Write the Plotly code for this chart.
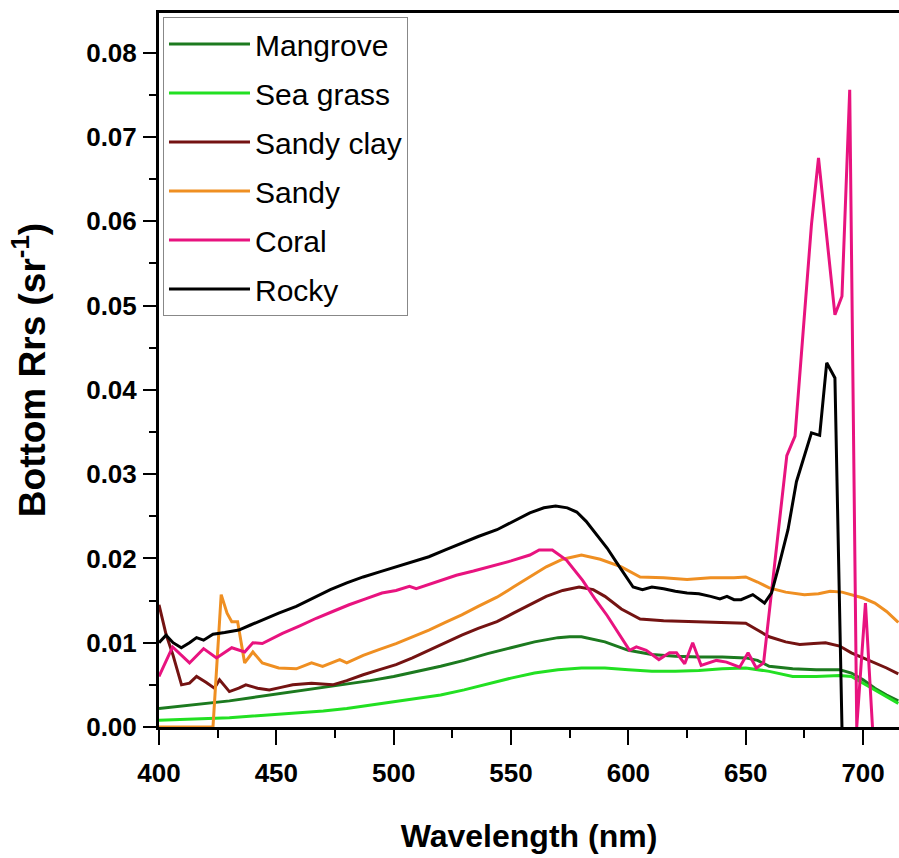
import plotly.graph_objects as go

# ---------------- data ----------------
mangrove_wl = [400, 410, 420, 430, 440, 450, 460, 470, 480, 490, 500, 510, 520, 530, 540, 550, 560, 570, 575, 580,
               590, 600, 610, 620, 630, 640, 650, 655, 660, 670, 680, 690, 695, 700, 705, 710, 715]
mangrove = [0.0022, 0.0025, 0.0028, 0.0031, 0.0035, 0.0039, 0.0043, 0.0047, 0.0051, 0.0055, 0.0060, 0.0066, 0.0072,
            0.0079, 0.0087, 0.0094, 0.0101, 0.0106, 0.0107, 0.0107, 0.0101, 0.0091, 0.0086, 0.0084, 0.0083, 0.0083,
            0.0082, 0.0079, 0.0072, 0.0069, 0.0068, 0.0068, 0.0064, 0.0056, 0.0046, 0.0038, 0.0031]

seagrass_wl = [400, 410, 420, 430, 440, 450, 460, 470, 480, 490, 500, 510, 520, 530, 540, 550, 560, 570, 580, 590,
               600, 610, 620, 630, 640, 650, 660, 670, 680, 690, 695, 700, 705, 710, 715]
seagrass = [0.0008, 0.0009, 0.0010, 0.0011, 0.0013, 0.0015, 0.0017, 0.0019, 0.0022, 0.0026, 0.0030, 0.0034, 0.0038,
            0.0044, 0.0051, 0.0058, 0.0064, 0.0068, 0.0070, 0.0070, 0.0068, 0.0066, 0.0066, 0.0067, 0.0069, 0.0070,
            0.0066, 0.0060, 0.0060, 0.0061, 0.0060, 0.0052, 0.0044, 0.0036, 0.0028]

sandyclay_wl = [400, 403, 406, 409.6, 413, 416, 420, 423.6, 425.8, 430, 434, 437, 442, 447, 452, 457, 465, 474, 480,
                487, 494, 501, 508, 515, 522, 529, 536, 544, 551, 558, 565, 572, 579, 585, 590, 597, 605, 615, 625,
                635, 645, 650, 655, 660, 667, 673, 679, 684, 690, 695, 700, 705, 710, 715]
sandyclay = [0.0145, 0.0110, 0.0085, 0.0050, 0.0052, 0.0060, 0.0053, 0.0046, 0.0056, 0.0042, 0.0046, 0.0050, 0.0046,
             0.0044, 0.0047, 0.0050, 0.0052, 0.0050, 0.0055, 0.0062, 0.0068, 0.0074, 0.0082, 0.0091, 0.0100, 0.0109,
             0.0117, 0.0125, 0.0135, 0.0145, 0.0155, 0.0162, 0.0166, 0.0163, 0.0155, 0.0140, 0.0128, 0.0126, 0.0125,
             0.0124, 0.0123, 0.0123, 0.0115, 0.0107, 0.0101, 0.0098, 0.0099, 0.0100, 0.0096, 0.0088, 0.0082, 0.0076,
             0.0070, 0.0063]

sandy_wl = [400, 423, 426.5, 429, 431, 433.5, 436.5, 440, 444, 451, 458.5, 465, 469.7, 477, 480, 487, 494, 501, 508,
            515, 522, 529, 536, 544, 551, 558, 565, 572, 580, 588, 597, 605, 615, 625, 635, 645, 650, 655, 660, 667,
            675, 681, 686, 691, 695, 700, 705, 710, 715]
sandy = [0.0, 0.0, 0.0157, 0.0135, 0.0125, 0.0125, 0.0076, 0.0089, 0.0076, 0.0070, 0.0069, 0.0076, 0.0072, 0.0080,
         0.0076, 0.0085, 0.0092, 0.0099, 0.0107, 0.0115, 0.0124, 0.0133, 0.0143, 0.0154, 0.0166, 0.0178, 0.0190,
         0.0199, 0.0204, 0.0199, 0.0190, 0.0178, 0.0177, 0.0175, 0.0177, 0.0177, 0.0178, 0.0172, 0.0165, 0.0160,
         0.0157, 0.0158, 0.0161, 0.0160, 0.0157, 0.0153, 0.0147, 0.0137, 0.0124]

coral_wl = [400, 405.8, 413, 419, 424.5, 431, 436.5, 440, 444, 452.6, 460, 467, 474, 481, 488, 495, 501, 506.7, 509.6,
            518, 526.7, 534, 541, 550, 558, 562, 567.6, 573.6, 580.5, 586, 591, 595, 600.5, 603.4, 607.6, 613, 617.5,
            620.5, 624, 627.4, 631, 637.5, 641.8, 647.4, 651, 654.5, 657.6, 667.5, 671, 678, 681, 688, 691, 694.3,
            697.3, 701, 704]
coral = [0.0060, 0.0095, 0.0076, 0.0093, 0.0082, 0.0094, 0.0089, 0.0100, 0.0099, 0.0111, 0.0120, 0.0129, 0.0137,
         0.0145, 0.0152, 0.0159, 0.0162, 0.0167, 0.0164, 0.0172, 0.0180, 0.0185, 0.0190, 0.0197, 0.0204, 0.0210,
         0.0210, 0.0198, 0.0174, 0.0151, 0.0132, 0.0115, 0.0091, 0.0095, 0.0091, 0.0080, 0.0088, 0.0088, 0.0075,
         0.0100, 0.0073, 0.0079, 0.0077, 0.0071, 0.0088, 0.0070, 0.0076, 0.0322, 0.0345, 0.0596, 0.0675, 0.0489,
         0.0511, 0.0756, 0.0, 0.0147, 0.0]

rocky_wl = [400, 403, 406, 409.5, 413, 416, 419, 423, 428, 434, 439, 444, 451, 458.5, 466, 473, 480, 487, 494, 501,
            508, 515, 522, 529, 536, 544, 551, 558, 564, 569, 574, 578, 582, 586, 591, 595, 599, 602, 606, 610, 615,
            620, 625, 630, 635, 639, 642, 645, 648, 653, 658, 661, 664, 668, 671.6, 678, 681.5, 684.5, 688, 691]
rocky = [0.0100, 0.0109, 0.0100, 0.0094, 0.0100, 0.0106, 0.0103, 0.0110, 0.0112, 0.0115, 0.0121, 0.0127, 0.0135,
         0.0143, 0.0153, 0.0163, 0.0171, 0.0178, 0.0184, 0.0190, 0.0196, 0.0202, 0.0210, 0.0218, 0.0226, 0.0234,
         0.0244, 0.0254, 0.0260, 0.0262, 0.0260, 0.0255, 0.0244, 0.0230, 0.0212, 0.0195, 0.0178, 0.0166, 0.0163,
         0.0166, 0.0164, 0.0161, 0.0159, 0.0158, 0.0155, 0.0152, 0.0155, 0.0151, 0.0151, 0.0157, 0.0147, 0.0159,
         0.0190, 0.0234, 0.0291, 0.0349, 0.0346, 0.0432, 0.0414, 0.0]

series = [
    ("Mangrove", mangrove_wl, mangrove, "#1c7a1f"),
    ("Sea grass", seagrass_wl, seagrass, "#22e022"),
    ("Sandy clay", sandyclay_wl, sandyclay, "#741312"),
    ("Sandy", sandy_wl, sandy, "#ef8f22"),
    ("Coral", coral_wl, coral, "#e8137f"),
    ("Rocky", rocky_wl, rocky, "#000000"),
]

x_ticks = [400, 450, 500, 550, 600, 650, 700]
y_ticks = [0.00, 0.01, 0.02, 0.03, 0.04, 0.05, 0.06, 0.07, 0.08]
y_tick_labels = ["0.00", "0.01", "0.02", "0.03", "0.04", "0.05", "0.06", "0.07", "0.08"]

SANS = "Liberation Sans, Arial, sans-serif"

fig = go.Figure()
for name, wl, vals, col in series:
    fig.add_trace(go.Scatter(x=wl, y=vals, mode="lines", name=name, legendgroup=name,
                             line=dict(color=col, width=3)))

fig.update_layout(
    width=899, height=858,
    margin=dict(l=159, r=0, t=13, b=131),
    paper_bgcolor="white", plot_bgcolor="white",
    showlegend=True,
    legend=dict(x=0.0054, y=0.9944, xanchor="left", yanchor="top",
                bordercolor="#888888", borderwidth=1, bgcolor="white",
                font=dict(family=SANS, size=30, color="black"),
                itemwidth=81, tracegroupgap=7),
)

fig.update_xaxes(
    range=[400, 715.3], tickvals=x_ticks, ticktext=[str(v) for v in x_ticks],
    ticks="outside", ticklen=15, tickwidth=2, tickcolor="black",
    minor=dict(dtick=25, tick0=400, ticks="outside", ticklen=8, tickwidth=2, tickcolor="black"),
    showline=True, linewidth=3, linecolor="black", mirror=True,
    showgrid=False, zeroline=False, layer="below traces",
    ticklabelstandoff=6,
    tickfont=dict(family=SANS, size=26, color="black", weight="bold"),
    title=dict(text="Wavelength (nm)", standoff=38,
               font=dict(family=SANS, size=32, color="black", weight="bold")),
)
fig.update_yaxes(
    range=[0, 0.0847], tickvals=y_ticks, ticktext=y_tick_labels,
    ticks="outside", ticklen=13, tickwidth=2, tickcolor="black",
    minor=dict(dtick=0.005, tick0=0, ticks="outside", ticklen=7, tickwidth=2, tickcolor="black"),
    showline=True, linewidth=3, linecolor="black", mirror=False,
    showgrid=False, zeroline=False, layer="below traces",
    ticklabelstandoff=1,
    tickfont=dict(family=SANS, size=26, color="black", weight="bold"),
    title=dict(text="Bottom Rrs (sr<sup>-1</sup>)", standoff=30,
               font=dict(family=SANS, size=37, color="black", weight="bold")),
)

# remove the default page margin so the 899x858 figure fills the window exactly
fig.write_html("out.html",
               config={"displayModeBar": False},
               post_script="document.body.style.margin='0';document.body.style.overflow='hidden';")
